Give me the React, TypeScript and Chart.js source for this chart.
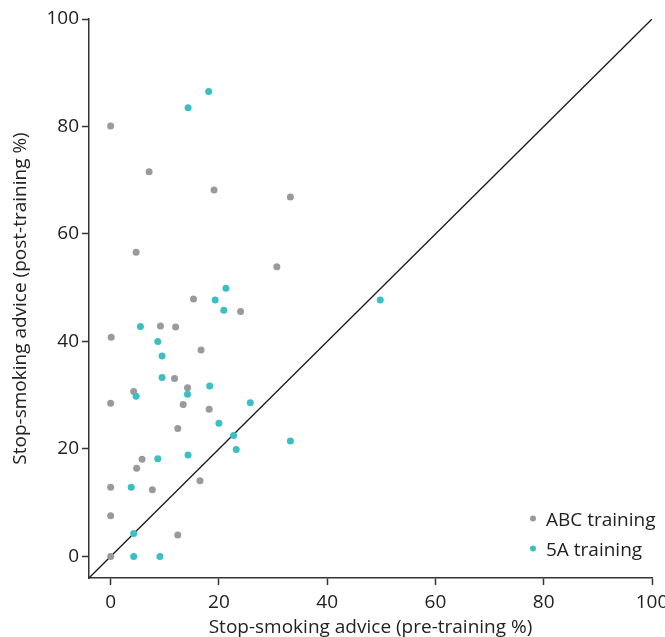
import React, { useEffect, useRef } from "react";
import { Chart, registerables } from "chart.js";

Chart.register(...registerables);

const seriesNames = ["ABC training", "5A training"];

const abcX = [0, 7.1, 19.1, 33.2, 4.7, 30.7, 15.3, 24.0, 9.2, 12.0, 0.1, 16.7, 11.8, 14.2, 4.25, 0, 13.4, 18.2, 12.4, 5.8, 4.8, 0, 7.7, 16.5, 0, 12.4, 0];
const abcY = [80.1, 71.6, 68.2, 66.9, 56.6, 53.9, 47.9, 45.6, 42.9, 42.7, 40.8, 38.4, 33.1, 31.4, 30.7, 28.5, 28.3, 27.4, 23.8, 18.1, 16.4, 12.9, 12.4, 14.1, 7.6, 4.0, 0];

const fiveAX = [18.1, 14.3, 21.3, 19.3, 20.9, 49.8, 5.5, 8.7, 9.5, 9.5, 18.3, 4.7, 14.2, 25.8, 20.0, 22.7, 33.2, 23.2, 8.7, 14.3, 3.8, 4.25, 4.25, 9.1];
const fiveAY = [86.5, 83.5, 49.9, 47.7, 45.8, 47.7, 42.8, 40.0, 37.3, 33.3, 31.7, 29.8, 30.2, 28.6, 24.8, 22.5, 21.5, 19.9, 18.2, 18.9, 12.9, 4.3, 0, 0];

const diagonalX = [-4, 100];
const diagonalY = [-4, 100];

const tickValues = [0, 20, 40, 60, 80, 100];
const axisMin = -4;
const axisMax = 100;

const xTitle = "Stop-smoking advice (pre-training %)";
const yTitle = "Stop-smoking advice (post-training %)";

const GRAY = "#9a9a9e";
const TEAL = "#3bbfc3";
const TEXT = "#222222";
const AXIS = "#333333";
const FONT = "'Open Sans'";
const FONT_SIZE = 19;

const toPoints = (xs: number[], ys: number[]) => xs.map((x, i) => ({ x, y: ys[i] }));

const legendPlugin = {
  id: "customLegend",
  afterDraw(chart: any) {
    const ctx = chart.ctx;
    const items = [
      { label: seriesNames[0], color: GRAY, cy: 518.5, by: 526 },
      { label: seriesNames[1], color: TEAL, cy: 548.5, by: 555.5 },
    ];
    ctx.save();
    ctx.font = `${FONT_SIZE}px ${FONT}`;
    ctx.textBaseline = "alphabetic";
    ctx.textAlign = "left";
    items.forEach((it) => {
      ctx.beginPath();
      ctx.fillStyle = it.color;
      ctx.arc(533, it.cy, 3, 0, Math.PI * 2);
      ctx.fill();
      ctx.fillStyle = TEXT;
      ctx.fillText(it.label, 546, it.by);
    });
    ctx.restore();
  },
};

export default function App() {
  const ref = useRef<HTMLCanvasElement | null>(null);
  useEffect(() => {
    if (!ref.current) return;
    const axisCommon = (title: string, titlePad: any, tickPad: number) => ({
      type: "linear" as const,
      min: axisMin,
      max: axisMax,
      afterBuildTicks: (scale: any) => {
        scale.ticks = tickValues.map((v) => ({ value: v }));
      },
      grid: {
        display: true,
        drawOnChartArea: false,
        drawTicks: true,
        tickLength: 7,
        tickWidth: 1.5,
        tickColor: AXIS,
        color: AXIS,
      },
      border: { display: true, color: AXIS, width: 1.5 },
      ticks: {
        padding: tickPad,
        color: TEXT,
        font: { family: FONT, size: FONT_SIZE },
      },
      title: {
        display: true,
        text: title,
        color: TEXT,
        font: { family: FONT, size: FONT_SIZE },
        padding: titlePad,
      },
    });
    const chart = new Chart(ref.current, {
      type: "scatter",
      data: {
        datasets: [
          {
            label: "diagonal",
            data: toPoints(diagonalX, diagonalY),
            showLine: true,
            borderColor: "#1a1a1a",
            borderWidth: 1.3,
            pointRadius: 0,
            order: 3,
          },
          {
            label: seriesNames[0],
            data: toPoints(abcX, abcY),
            backgroundColor: GRAY,
            borderWidth: 0,
            pointRadius: 3.5,
            order: 2,
          },
          {
            label: seriesNames[1],
            data: toPoints(fiveAX, fiveAY),
            backgroundColor: TEAL,
            borderWidth: 0,
            pointRadius: 3.5,
            order: 1,
          },
        ],
      },
      options: {
        animation: false,
        responsive: false,
        maintainAspectRatio: false,
        layout: { padding: { top: 19, right: 13, left: 0, bottom: 0 } },
        plugins: { legend: { display: false }, tooltip: { enabled: false } },
        scales: {
          x: {
            ...axisCommon(xTitle, { top: 0, bottom: -2 }, 6),
            position: "bottom",
            afterFit: (scale: any) => {
              scale.height = 59;
              scale.paddingLeft = 0;
              scale.paddingRight = 0;
            },
          },
          y: {
            ...axisCommon(yTitle, { top: 9, bottom: 0 }, 3),
            position: "left",
            afterFit: (scale: any) => {
              scale.width = 89;
              scale.paddingTop = 0;
              scale.paddingBottom = 0;
            },
          },
        },
      },
      plugins: [legendPlugin],
    });
    return () => chart.destroy();
  }, []);
  return (
    <div style={{ position: "absolute", left: 0, top: 0, width: 665, height: 637 }}>
      <canvas ref={ref} width={665} height={637} />
    </div>
  );
}
